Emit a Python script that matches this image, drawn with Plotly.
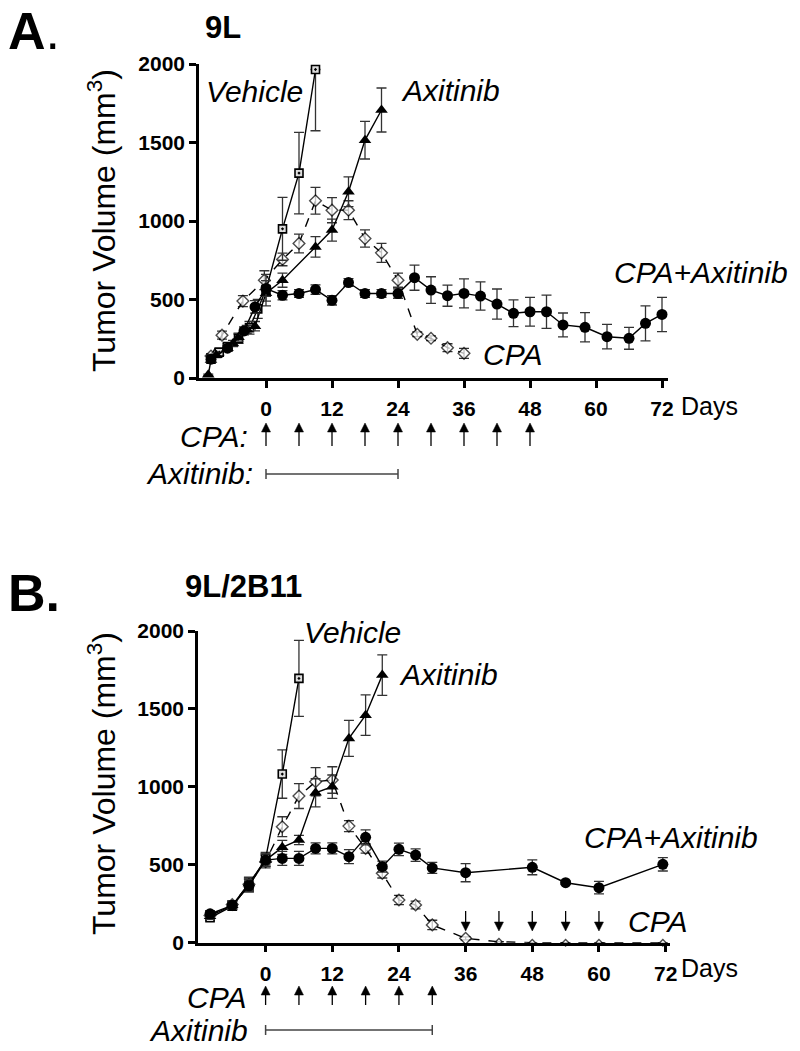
import plotly.graph_objects as go

# ---------------- data ----------------
# Panel A: 9L
a_veh_days = [-10, -8.5, -7, -5, -3, -1.5, 0, 3, 6, 9]
a_veh_vals = [120, 165, 200, 250, 320, 440, 560, 950, 1305, 1965]
a_veh_err_up = [15, 20, 20, 30, 40, 60, 100, 200, 260, 0]
a_veh_err_dn = [15, 20, 20, 30, 40, 60, 100, 200, 260, 390]

a_axi_days = [-10.5, -10, -9, -7, -6, -5, -3.5, -2, 0, 3, 9, 12, 15, 18, 21]
a_axi_vals = [20, 115, 145, 190, 220, 260, 310, 330, 540, 623, 835, 942, 1186, 1515, 1707]
a_axi_err = [5, 15, 15, 20, 20, 25, 25, 30, 50, 45, 65, 70, 95, 120, 140]

a_cpa_days = [-10, -8, -4.2, -0.3, 3, 6, 9, 12, 15, 18, 21, 24, 27.5, 30, 33, 36]
a_cpa_vals = [140, 273, 490, 623, 755, 857, 1129, 1069, 1069, 888, 797, 623, 278, 253, 193, 157]
a_cpa_err = [15, 25, 35, 60, 40, 60, 85, 80, 60, 55, 60, 45, 15, 15, 25, 32]

a_combo_days = [-10, -7, -4, -2, 0, 3, 6, 9, 12, 15, 18, 21, 24, 27, 30, 33, 36, 39, 42,
                45, 48, 51, 54, 58, 62, 66, 69, 72]
a_combo_vals = [120, 190, 300, 453, 570, 527, 538, 563, 495, 608, 538, 538, 538,
                639, 560, 524, 539, 522, 471, 412, 422, 422, 338, 323, 263, 253, 348, 405]
a_combo_err = [15, 20, 25, 40, 50, 30, 25, 30, 30, 25, 25, 25, 30,
               80, 85, 67, 92, 90, 96, 85, 91, 106, 76, 93, 78, 70, 111, 109]

a_cpa_doses = [0, 6, 12, 18, 24, 30, 36, 42, 48]
a_axi_period = [0, 24]

# Panel B: 9L/2B11
b_veh_days = [-10, -6, -3, 0, 3, 6]
b_veh_vals = [160, 235, 370, 540, 1082, 1696]
b_veh_err = [20, 25, 40, 40, 155, 244]

b_axi_days = [-10, -6, -3, 0, 3, 6, 9, 12, 15, 18, 21]
b_axi_vals = [170, 240, 380, 530, 612, 659, 962, 1001, 1311, 1460, 1717]
b_axi_err = [20, 25, 40, 40, 45, 30, 90, 75, 115, 130, 130]

b_cpa_days = [-10, -6, -3, 0, 3, 6, 9, 12, 15, 18, 21, 24, 27, 30, 36, 42, 48, 54, 60, 71.5]
b_cpa_vals = [175, 245, 375, 520, 744, 941, 1033, 1044, 748, 605, 445, 274, 242, 114, 28, 6, 0, 0, 0, 0]
b_cpa_err = [20, 25, 40, 40, 64, 80, 90, 85, 35, 30, 30, 30, 25, 30, 10, 0, 0, 0, 0, 0]

b_combo_days = [-10, -6, -3, 0, 3, 6, 9, 12, 15, 18, 21, 24, 27, 30, 36, 48, 54, 60, 71.5]
b_combo_vals = [185, 240, 365, 530, 541, 541, 605, 605, 552, 676, 488, 599, 562, 480, 449, 484, 385, 353, 503]
b_combo_err = [20, 25, 40, 40, 45, 45, 35, 35, 45, 48, 35, 40, 40, 35, 58, 48, 10, 40, 43]

b_cpa_doses = [0, 6, 12, 18, 24, 30]
b_stop_marks = [36, 42, 48, 54, 60]
b_axi_period = [0, 30]

x_ticks = [0, 12, 24, 36, 48, 60, 72]
y_ticks = [0, 500, 1000, 1500, 2000]

# ---------------- layout helpers ----------------
FW, FH = 800, 1051
FONT = "Liberation Sans"


def P(xpx):
    return xpx / FW


def Q(ypx):
    return 1 - ypx / FH


fig = go.Figure()

STY = {
    "veh": dict(symbol="square-dot", size=8, color="#dddddd", line=dict(color="black", width=1.6)),
    "axi": dict(symbol="triangle-up", size=11, color="black", line=dict(color="black", width=0)),
    "cpa": dict(symbol="diamond", size=9, color="white", line=dict(color="black", width=1.4)),
    "combo": dict(symbol="circle", size=11, color="black", line=dict(color="black", width=0)),
}


def add(days, vals, up, dn, key, xa, ya, dash="solid"):
    marker = dict(STY[key])
    if key == "cpa":
        marker["size"] = [5 if v < 10 else STY[key]["size"] for v in vals]
    fig.add_trace(go.Scatter(
        x=days, y=vals, mode="lines+markers", xaxis=xa, yaxis=ya,
        line=dict(color="black", width=1.4, dash=dash),
        marker=marker, cliponaxis=False, showlegend=False,
        error_y=dict(type="data", array=up, arrayminus=dn, visible=True,
                     color="#333333", thickness=1.3, width=5),
    ))


# Panel A
add(a_cpa_days, a_cpa_vals, a_cpa_err, a_cpa_err, "cpa", "x", "y", dash="dash")
add(a_veh_days, a_veh_vals, a_veh_err_up, a_veh_err_dn, "veh", "x", "y")
add(a_axi_days, a_axi_vals, a_axi_err, a_axi_err, "axi", "x", "y")
add(a_combo_days, a_combo_vals, a_combo_err, a_combo_err, "combo", "x", "y")
# Panel B
add(b_cpa_days, b_cpa_vals, b_cpa_err, b_cpa_err, "cpa", "x2", "y2", dash="dash")
add(b_veh_days, b_veh_vals, b_veh_err, b_veh_err, "veh", "x2", "y2")
add(b_axi_days, b_axi_vals, b_axi_err, b_axi_err, "axi", "x2", "y2")
add(b_combo_days, b_combo_vals, b_combo_err, b_combo_err, "combo", "x2", "y2")


def xaxis(dom, rng, anchor):
    return dict(domain=[P(dom[0]), P(dom[1])], range=rng, showline=True, linewidth=2.5,
                linecolor="black", ticks="outside", ticklen=7, tickwidth=2.5, tickcolor="black",
                tickvals=x_ticks, ticktext=[str(t) for t in x_ticks], showgrid=False,
                zeroline=False, ticklabelstandoff=3, anchor=anchor, automargin=False,
                tickfont=dict(family=FONT, size=21, color="black", weight="bold"))


def yaxis(dom, anchor):
    return dict(domain=[Q(dom[1]), Q(dom[0])], range=[0, 2000], showline=True, linewidth=2.5,
                linecolor="black", ticks="outside", ticklen=7, tickwidth=2.5, tickcolor="black",
                tickvals=y_ticks, showgrid=False, zeroline=False, anchor=anchor, automargin=False,
                tickfont=dict(family=FONT, size=21, color="black", weight="bold"))


A_X, A_Y = (199, 668), (64, 378)
B_X, B_Y = (198, 670), (631, 942.7)
A_D0, A_PPD = 266, 5.5
B_D0, B_PPD = 265.6, 5.556
a_range = [(A_X[0] - A_D0) / A_PPD, (A_X[1] - A_D0) / A_PPD]
b_range = [(B_X[0] - B_D0) / B_PPD, (B_X[1] - B_D0) / B_PPD]

ann = []


def text(s, xpx, ypx, size, xanchor="left", yanchor="middle", angle=0):
    ann.append(dict(text=s, x=P(xpx), y=Q(ypx), xref="paper", yref="paper",
                    xanchor=xanchor, yanchor=yanchor, showarrow=False, textangle=angle,
                    font=dict(family=FONT, size=size, color="black")))


LBL = 30
# panel letters / titles
text("<b>A</b>.", 6, 31, 52)
text("<b>9L</b>", 203, 28, 31)
text("<b>B.</b>", 6, 593, 52)
text("<b>9L/2B11</b>", 183, 586, 31)
# y titles
text("Tumor Volume (mm<sup>3</sup>)", 102, 221, 32, xanchor="center", angle=-90)
text("Tumor Volume (mm<sup>3</sup>)", 102, 784, 32, xanchor="center", angle=-90)
# Days
text("Days", 679, 406, 25)
text("Days", 679, 968, 25)
# series labels A
text("<i>Vehicle</i>", 204, 92, LBL)
text("<i>Axitinib</i>", 399, 91, LBL)
text("<i>CPA+Axitinib</i>", 612, 272, LBL)
text("<i>CPA</i>", 481, 354, LBL)
# series labels B
text("<i>Vehicle</i>", 302, 632, LBL)
text("<i>Axitinib</i>", 397, 674, LBL)
text("<i>CPA+Axitinib</i>", 582, 837, LBL)
text("<i>CPA</i>", 626, 921, LBL)
# schedule labels
text("<i>CPA:</i>", 250, 436, LBL, xanchor="right")
text("<i>Axitinib:</i>", 255, 473, LBL, xanchor="right")
text("<i>CPA</i>", 248, 997, LBL, xanchor="right")
text("<i>Axitinib</i>", 250, 1030, LBL, xanchor="right")

shapes = []
LINE = dict(color="black", width=1.3)


def arrow(day, xref, ppd, tip_px, tail_px):
    """Arrow drawn as a shaft plus a filled triangular head."""
    up = tail_px > tip_px
    head = 9
    base = tip_px + head if up else tip_px - head
    hw = 4.5 / ppd
    shapes.append(dict(type="line", xref=xref, yref="paper", x0=day, x1=day,
                       y0=Q(base), y1=Q(tail_px), line=LINE))
    path = "M {},{} L {},{} L {},{} Z".format(day, Q(tip_px), day - hw, Q(base), day + hw, Q(base))
    shapes.append(dict(type="path", xref=xref, yref="paper", path=path,
                       fillcolor="black", line=dict(color="black", width=0.5)))


for d in a_cpa_doses:
    arrow(d, "x", A_PPD, 423, 446)
for d in b_cpa_doses:
    arrow(d, "x2", B_PPD, 986, 1005)
for d in b_stop_marks:
    arrow(d, "x2", B_PPD, 931, 911)


def bar(period, xref, ypx):
    c = dict(color="#444444", width=1.5)
    shapes.append(dict(type="line", xref=xref, yref="paper", x0=period[0], x1=period[1],
                       y0=Q(ypx), y1=Q(ypx), line=c))
    for p in period:
        shapes.append(dict(type="line", xref=xref, yref="paper", x0=p, x1=p,
                           y0=Q(ypx - 5), y1=Q(ypx + 5), line=c))


bar(a_axi_period, "x", 474)
bar(b_axi_period, "x2", 1030)

fig.update_layout(
    width=FW, height=FH, autosize=False,
    margin=dict(l=0, r=0, t=0, b=0, pad=0, autoexpand=False),
    paper_bgcolor="white", plot_bgcolor="white",
    font=dict(family=FONT, color="black"),
    xaxis=xaxis(A_X, a_range, "y"), yaxis=yaxis(A_Y, "x"),
    xaxis2=xaxis(B_X, b_range, "y2"), yaxis2=yaxis(B_Y, "x2"),
    annotations=ann, shapes=shapes, showlegend=False,
)

fig.write_html("out.html", config=dict(displayModeBar=False),
               post_script="document.body.style.margin='0';document.body.style.overflow='hidden';")
